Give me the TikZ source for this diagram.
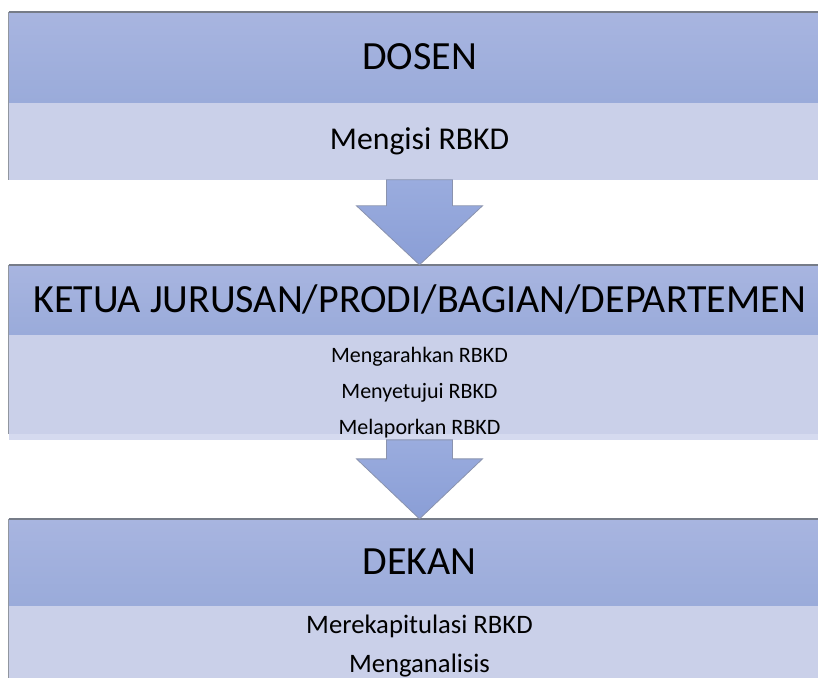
\documentclass[tikz,border=0pt]{standalone}
\usepackage{fontspec}
\setmainfont{Carlito}
\usetikzlibrary{positioning, calc}
\definecolor{headtop}{HTML}{A8B5E0}
\definecolor{headbot}{HTML}{9AABDA}
\definecolor{bodyfill}{HTML}{CAD0E9}
\definecolor{stripfill}{HTML}{D5DAEF}
\definecolor{arrowtop}{HTML}{9AACDE}
\definecolor{arrowbot}{HTML}{8A9ED6}
\definecolor{arrowline}{HTML}{8A93AE}
\definecolor{framegray}{HTML}{767C88}
\tikzstyle{headbox} = [rectangle, top color=headtop, bottom color=headbot, minimum width=615.75pt, inner sep=0pt, font=\fontsize{30}{36}\selectfont]
\tikzstyle{bodybox} = [rectangle, fill=bodyfill, minimum width=615.75pt, inner sep=0pt, align=center]
\tikzstyle{blockarrow} = [draw=arrowline, line width=0.6pt, top color=arrowtop, bottom color=arrowbot]
\tikzstyle{frameline} = [draw=framegray, line width=1.2pt]
\tikzstyle{sideline} = [draw=framegray!80, line width=0.7pt]

\begin{document}
\begin{tikzpicture}[x=0.75pt, y=-0.75pt]
	\useasboundingbox (0,0) rectangle (818,678);
	\clip (0,0) rectangle (818,678);
	% DOSEN
	\node[headbox, minimum height=67.5pt] (dosen) at (419.5,57) {DOSEN};
	\node[bodybox, minimum height=57.75pt, below=0pt of dosen, font=\fontsize{23.8}{28}\selectfont] (dosenbody) {Mengisi RBKD};
	% KETUA
	\node[headbox, minimum height=51.75pt, below=63.75pt of dosenbody] (ketua) {KETUA JURUSAN/PRODI/BAGIAN/DEPARTEMEN};
	\node[bodybox, minimum height=78.75pt, below=0pt of ketua] (ketuabody) {};
	\fill[stripfill] ([yshift=4.5pt]ketuabody.south west) rectangle (ketuabody.south east);
	\node[align=center, inner sep=0pt, font=\fontsize{16.5}{27}\selectfont] (ketuatugas) at ($(ketuabody.center)+(0,6)$) {Mengarahkan RBKD\\Menyetujui RBKD\\Melaporkan RBKD};
	% DEKAN
	\node[headbox, minimum height=64.5pt, below=59.25pt of ketuabody] (dekan) {DEKAN};
	\node[bodybox, minimum height=60.75pt, below=0pt of dekan, font=\fontsize{20}{29.25}\selectfont] (dekanbody) {Merekapitulasi RBKD\\Menganalisis};
	\fill[bodyfill] (dekanbody.south west) rectangle ++(821,10);
	% frames
	\draw[sideline] (dosenbody.south west) -- (dosen.north west);
	\draw[frameline] (dosen.north west) -- (dosen.north east);
	\draw[sideline] ([yshift=4.5pt]ketuabody.south west) -- (ketua.north west);
	\draw[frameline] (ketua.north west) -- (ketua.north east);
	\draw[sideline] ($(dekanbody.south west)+(0,10)$) -- (dekan.north west);
	\draw[frameline] (dekan.north west) -- (dekan.north east);
	% arrows
	\draw[blockarrow] ($(dosenbody.south)+(-33,0)$) -- ++(0,26) -- ++(-30,0) -- (ketua.north) -- ++(63,-59) -- ++(-30,0) -- ++(0,-26) -- cycle;
	\draw[blockarrow] ($(ketuabody.south)+(-33,0)$) -- ++(0,19) -- ++(-30,0) -- (dekan.north) -- ++(63,-60) -- ++(-30,0) -- ++(0,-19) -- cycle;
\end{tikzpicture}
\end{document}
